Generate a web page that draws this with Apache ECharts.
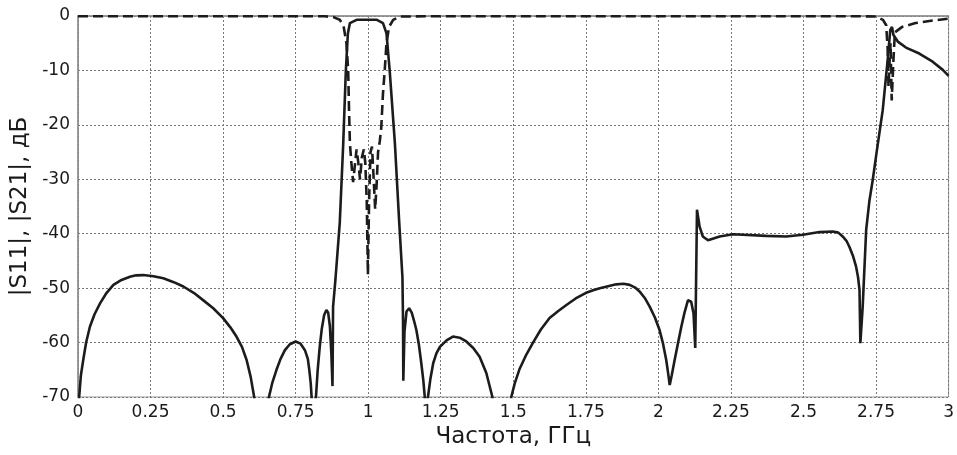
<!DOCTYPE html>
<html>
<head>
<meta charset="utf-8">
<script src="https://cdn.jsdelivr.net/npm/echarts@6/dist/echarts.min.js"></script>
<style>
html,body{margin:0;padding:0;background:#fff;}
#chart{width:957px;height:455px;}
</style>
</head>
<body>
<div id="chart"></div>
<script>
// Solid curve |S21|
const freqS21 = [0,0.004,0.01,0.018,0.028,0.041,0.057,0.076,0.098,0.122,0.15,0.179,0.2,0.225,0.26,0.294,0.33,0.363,0.4,0.431,0.466,0.5,0.525,0.546,0.565,0.581,0.595,0.607,0.632,
0.658,0.67,0.684,0.698,0.713,0.73,0.75,0.767,0.782,0.792,0.797,0.802,0.805,0.813,
0.82,0.826,0.833,0.84,0.848,0.856,0.862,0.868,0.873,0.877,0.879,0.887,0.902,0.914,0.923,0.93,0.937,0.96,1.03,1.051,1.063,1.074,1.092,1.107,1.118,1.12,1.121,
1.125,1.132,1.141,1.15,1.158,1.166,1.175,1.183,1.19,1.195,1.2,
1.206,1.214,1.224,1.235,1.247,1.27,1.292,1.315,1.338,1.362,1.384,1.407,1.428,1.46,
1.493,1.505,1.522,1.545,1.568,1.595,1.625,1.655,1.683,1.715,1.749,1.775,1.798,1.83,1.855,1.88,1.901,1.92,1.935,1.953,1.97,1.988,2.004,2.016,2.027,2.034,2.039,2.046,2.056,2.068,2.079,2.09,2.102,2.108,2.113,2.121,2.127,
2.133,2.142,2.153,2.171,2.211,2.257,2.371,2.44,2.498,2.555,2.601,2.62,2.635,2.648,2.658,2.67,2.681,2.688,2.693,2.696,
2.704,2.716,2.727,2.739,2.75,2.773,2.79,2.799,2.805,2.81,2.825,2.853,2.899,2.945,2.98,3];
const s21dB = [-80,-70,-66,-63.2,-60,-57.1,-54.8,-52.8,-50.9,-49.4,-48.5,-47.9,-47.65,-47.6,-47.8,-48.2,-48.9,-49.7,-50.9,-52.2,-53.7,-55.5,-57.2,-58.9,-60.8,-63.2,-66.3,-70,-80,
-70,-67.3,-65,-63,-61.4,-60.3,-59.8,-60.2,-61.4,-63,-65,-67.5,-70,-80,
-70,-65,-60.8,-57.5,-55,-54,-54.5,-57,-62,-68,-53.4,-48.5,-38,-23.4,-10,-3.2,-1.3,-0.7,-0.7,-1.3,-3.2,-10,-23.4,-38,-48,-56,-67,
-58,-54.3,-53.7,-54.5,-56,-57.7,-60.5,-63.8,-67,-70,-80,
-70,-66.8,-63.8,-62,-60.8,-59.6,-58.9,-59.1,-59.8,-61,-62.6,-65.6,-70,-85,
-70,-67.5,-64.8,-62.2,-60,-57.6,-55.5,-54.2,-53.1,-51.9,-50.9,-50.4,-50,-49.6,-49.3,-49.2,-49.4,-49.9,-50.6,-51.8,-53.4,-55.4,-57.7,-60.2,-63.2,-65.8,-67.8,-66,-63.2,-60,-57.1,-54.5,-52.2,-52,-52.5,-54.6,-61,
-35.6,-38.7,-40.5,-41.2,-40.5,-40.1,-40.4,-40.5,-40.2,-39.7,-39.6,-39.8,-40.5,-41.3,-42.4,-44,-46,-48,-50.3,-60.1,
-53.4,-39.3,-34,-30,-25.8,-17.3,-8.1,-2.6,-2,-3.5,-4.7,-5.8,-6.9,-8.4,-9.9,-11];

// Dashed curve |S11|
const freqS11 = [0,0.85,0.88,0.902,0.915,0.925,0.931,0.934,0.937,0.942,0.948,0.954,0.96,0.966,0.972,0.978,0.985,0.99,0.995,0.999,1.003,1.008,1.013,1.018,1.024,1.029,1.034,1.04,1.045,1.051,1.057,1.063,1.072,1.086,1.109,1.2,2.7,2.75,2.774,2.785,2.79,2.793,2.797,2.8,2.804,2.81,2.815,2.84,2.886,2.95,3];
const s11dB = [-0.05,-0.05,-0.2,-0.7,-1.8,-5,-10,-17.3,-23.4,-27,-30.5,-27.5,-24.5,-27,-30,-26,-24.5,-27,-34,-47.5,-34,-25,-24,-29,-35.5,-31,-25,-23,-20.5,-14.2,-9.9,-5,-2,-0.7,-0.1,-0.05,-0.05,-0.1,-0.7,-1.7,-6,-13,-8,-5,-15.5,-8,-3,-2,-1.3,-0.8,-0.5];

const xTicks = [0,0.25,0.5,0.75,1,1.25,1.5,1.75,2,2.25,2.5,2.75,3];
const yTicks = [0,-10,-20,-30,-40,-50,-60,-70];
const xName = 'Частота, ГГц';
const yName = '|S11|, |S21|, дБ';

const pair = (xs, ys) => xs.map((x, i) => [x, ys[i]]);
const font = 'DejaVu Sans, Liberation Sans, sans-serif';
const chart = echarts.init(document.getElementById('chart'), null, {renderer: 'canvas'});
chart.setOption({
  animation: false,
  backgroundColor: '#fff',
  grid: {left: 78, right: 8, top: 16, bottom: 58, show: true, borderColor: '#9a9a9a', borderWidth: 1, backgroundColor: 'transparent'},
  xAxis: {
    type: 'value', min: xTicks[0], max: xTicks[xTicks.length - 1], interval: 0.25,
    name: xName, nameLocation: 'middle', nameGap: 27,
    nameTextStyle: {fontFamily: font, fontSize: 23, color: '#1a1a1a'},
    axisLine: {show: true, lineStyle: {color: '#8a8a8a', width: 1.5}},
    axisTick: {show: false},
    axisLabel: {fontFamily: font, fontSize: 17, color: '#1a1a1a', margin: 7},
    splitLine: {show: true, lineStyle: {type: [2, 2], color: '#777', width: 1}}
  },
  yAxis: {
    type: 'value', min: yTicks[yTicks.length - 1], max: yTicks[0], interval: 10,
    name: yName, nameLocation: 'middle', nameGap: 42, nameRotate: 90,
    nameTextStyle: {fontFamily: font, fontSize: 23, color: '#1a1a1a'},
    axisLine: {show: true, lineStyle: {color: '#8a8a8a', width: 1.5}},
    axisTick: {show: false},
    axisLabel: {fontFamily: font, fontSize: 17, color: '#1a1a1a', margin: 8},
    splitLine: {show: true, lineStyle: {type: [2, 2], color: '#777', width: 1}}
  },
  series: [
    {name: '|S21|', type: 'line', data: pair(freqS21, s21dB), showSymbol: false, clip: true,
     lineStyle: {color: '#1c1c1c', width: 2.6}, z: 3},
    {name: '|S11|', type: 'line', data: pair(freqS11, s11dB), showSymbol: false, clip: true,
     lineStyle: {color: '#1c1c1c', width: 2.6, type: [10, 5]}, z: 4}
  ]
});
</script>
</body>
</html>
